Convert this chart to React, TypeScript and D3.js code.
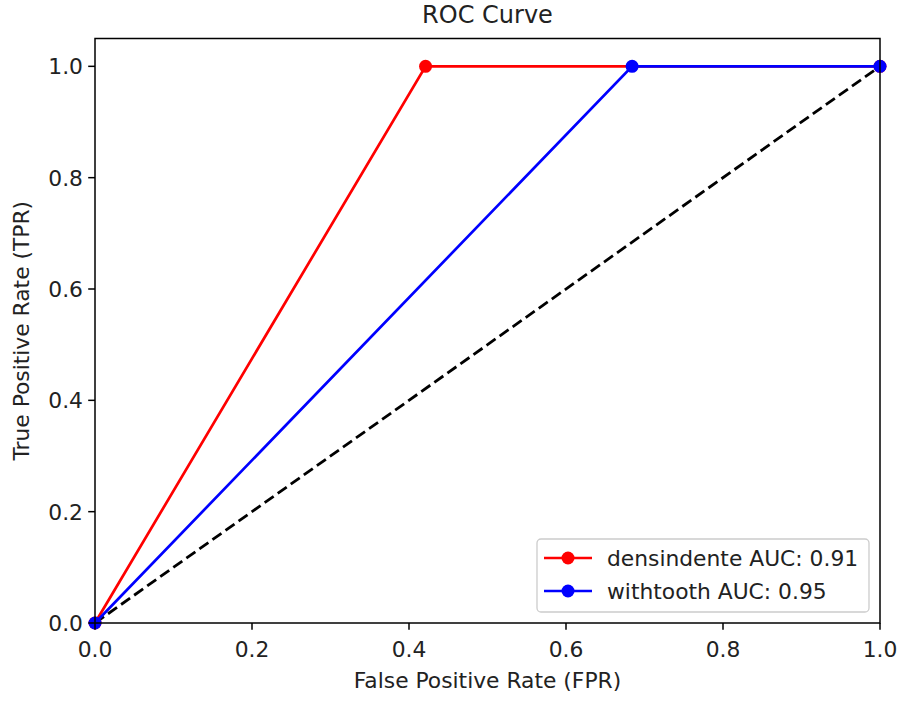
import * as d3 from "d3";

const series = [
  { name: "densindente AUC: 0.91", color: "#ff0000", fpr: [0, 0.4211, 1], tpr: [0, 1, 1] },
  { name: "withtooth AUC: 0.95", color: "#0000ff", fpr: [0, 0.6842, 1], tpr: [0, 1, 1] },
];
const diagFpr = [0, 1];
const diagTpr = [0, 1];
const xTicks = [0, 0.2, 0.4, 0.6, 0.8, 1.0];
const yTicks = [0, 0.2, 0.4, 0.6, 0.8, 1.0];

const W = 902;
const H = 702;
const m = { left: 95, right: 22, top: 38.5, bottom: 79 };
const font = "DejaVu Sans, sans-serif";
const fs = 21.8;

export default function App() {
  const x = d3.scaleLinear().domain([0, 1]).range([m.left, W - m.right]);
  const y = d3.scaleLinear().domain([0, 1.05]).range([H - m.bottom, m.top]);
  const line = d3
    .line<[number, number]>()
    .x((d) => x(d[0]))
    .y((d) => y(d[1]));
  const fmt = d3.format(".1f");
  const plotH = H - m.bottom - m.top;

  return (
    <svg
      width={W}
      height={H}
      style={{ position: "absolute", left: 0, top: 0, background: "#fff" }}
      fontFamily={font}
    >
      <rect width={W} height={H} fill="#fff" />
      <text x={(x(0) + x(1)) / 2} y={23} fontSize={24} textAnchor="middle" fill="#222">
        ROC Curve
      </text>

      <path
        d={line(diagFpr.map((v, i) => [v, diagTpr[i]]) as [number, number][]) || ""}
        fill="none"
        stroke="#000"
        strokeWidth={2.8}
        strokeDasharray="11,5"
      />
      {series.map((s) => (
        <g key={s.name}>
          <path
            d={line(s.fpr.map((v, i) => [v, s.tpr[i]]) as [number, number][]) || ""}
            fill="none"
            stroke={s.color}
            strokeWidth={2.7}
          />
          {s.fpr.map((v, i) => (
            <circle key={i} cx={x(v)} cy={y(s.tpr[i])} r={6.5} fill={s.color} />
          ))}
        </g>
      ))}

      <rect
        x={m.left}
        y={m.top}
        width={x(1) - x(0)}
        height={plotH}
        fill="none"
        stroke="#000"
        strokeWidth={1.5}
      />

      {xTicks.map((t) => (
        <g key={"x" + t} transform={`translate(${x(t)},${H - m.bottom})`}>
          <line y2={6.8} stroke="#000" strokeWidth={1.5} />
          <text y={34} fontSize={fs} textAnchor="middle" fill="#222">
            {fmt(t)}
          </text>
        </g>
      ))}
      {yTicks.map((t) => (
        <g key={"y" + t} transform={`translate(${m.left},${y(t)})`}>
          <line x2={-6.8} stroke="#000" strokeWidth={1.5} />
          <text x={-12} dy="0.36em" fontSize={fs} textAnchor="end" fill="#222">
            {fmt(t)}
          </text>
        </g>
      ))}

      <text x={(x(0) + x(1)) / 2} y={688} fontSize={fs} textAnchor="middle" fill="#222">
        False Positive Rate (FPR)
      </text>
      <text
        transform={`translate(29,${(y(0) + y(1.05)) / 2}) rotate(-90)`}
        fontSize={fs}
        textAnchor="middle"
        fill="#222"
      >
        True Positive Rate (TPR)
      </text>

      <g transform="translate(537,539)">
        <rect width={332} height={73} rx={4} fill="#fff" fillOpacity={0.8} stroke="#ccc" strokeWidth={1.3} />
        {series.map((s, i) => (
          <g key={s.name} transform={`translate(0,${19 + i * 33})`}>
            <line x1={7} x2={55} stroke={s.color} strokeWidth={2.7} />
            <circle cx={31} r={6.5} fill={s.color} />
            <text x={70} dy="0.36em" fontSize={fs} fill="#222">
              {s.name}
            </text>
          </g>
        ))}
      </g>
    </svg>
  );
}
